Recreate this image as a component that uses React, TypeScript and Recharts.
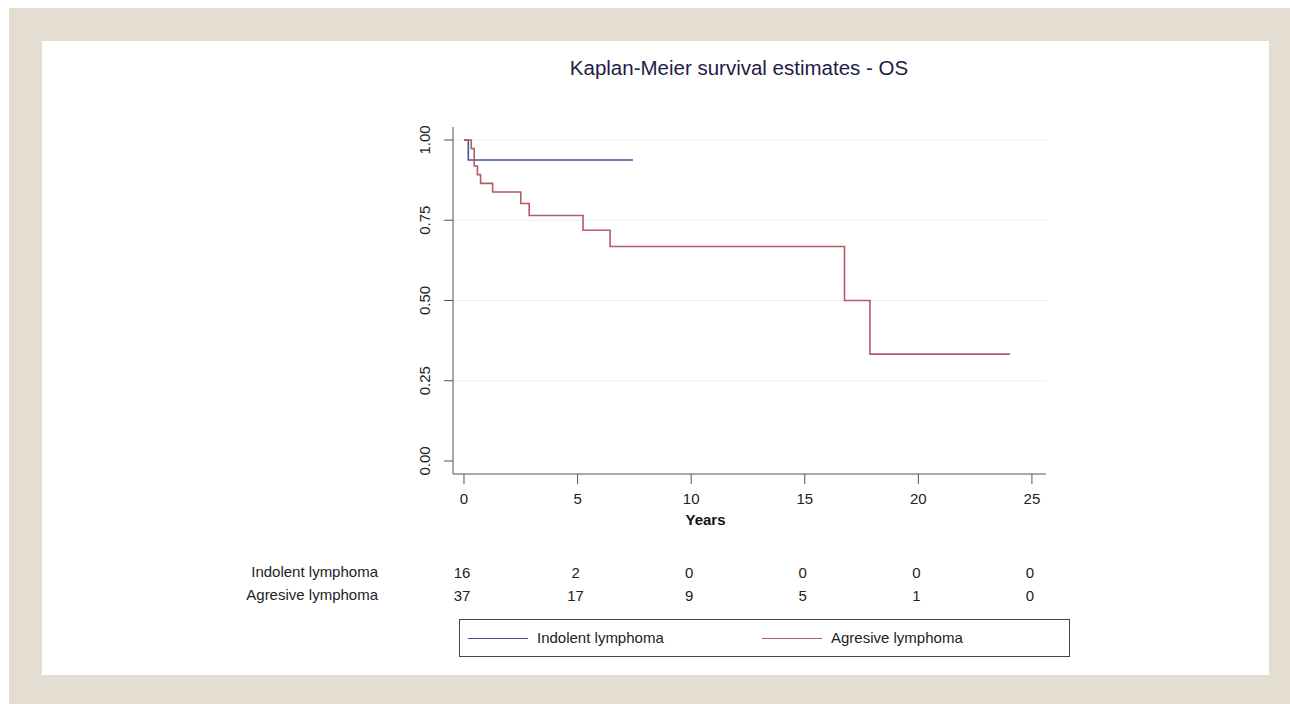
import React from 'react';
import { LineChart, Line, XAxis, YAxis, CartesianGrid } from 'recharts';

// Kaplan-Meier step points (years, survival)
const indolentTimes = [0, 0.19, 7.44];
const indolentSurv = [1, 0.9375, 0.9375];

const aggressiveTimes = [0, 0.32, 0.45, 0.59, 0.73, 1.26, 2.5, 2.87, 5.24, 6.43, 16.75, 17.87, 24.03];
const aggressiveSurv = [1, 0.973, 0.919, 0.892, 0.865, 0.838, 0.802, 0.765, 0.719, 0.668, 0.5, 0.333, 0.333];

const xTicks = [0, 5, 10, 15, 20, 25];
const yTicks = [0, 0.25, 0.5, 0.75, 1];

// numbers at risk at each x tick
const indolentAtRisk = [16, 2, 0, 0, 0, 0];
const aggressiveAtRisk = [37, 17, 9, 5, 1, 0];

const seriesNames = ['Indolent lymphoma', 'Agresive lymphoma'];

const FONT = '"Liberation Sans", Arial, sans-serif';
const colors = {
  frame: '#e4ded2',
  indolent: '#46539b',
  aggressive: '#b35c66',
  axis: '#555',
  text: '#222',
  grid: '#e6f0f0',
  title: '#1d2146',
};

const indolentData = indolentTimes.map((t, i) => ({ t, s: indolentSurv[i] }));
const aggressiveData = aggressiveTimes.map((t, i) => ({ t, s: aggressiveSurv[i] }));

const XTick = ({ x, y, payload }: any) => {
  const i = xTicks.indexOf(payload.value);
  return (
    <g fontFamily={FONT} fontSize={15} fill={colors.text}>
      <text x={x} y={y + 20} textAnchor="middle">{payload.value}</text>
      <text x={x - 2} y={y + 94} textAnchor="middle">{indolentAtRisk[i]}</text>
      <text x={x - 2} y={y + 117} textAnchor="middle">{aggressiveAtRisk[i]}</text>
    </g>
  );
};

const YTick = ({ x, y, payload }: any) => {
  const bx = x - 14;
  return (
    <text
      x={bx}
      y={y}
      transform={`rotate(-90 ${bx} ${y})`}
      textAnchor="middle"
      fontFamily={FONT}
      fontSize={15}
      fill={colors.text}
    >
      {payload.value.toFixed(2)}
    </text>
  );
};

// axis title sits a bit left of the plot centre, as in the original export
const YearsLabel = ({ viewBox }: any) => (
  <text
    x={viewBox.x + viewBox.width / 2 - 44}
    y={viewBox.y + viewBox.height - 9}
    textAnchor="middle"
    fontFamily={FONT}
    fontSize={15}
    fontWeight="bold"
    fill="#111"
  >
    Years
  </text>
);

const abs = (left: number, top: number, extra: React.CSSProperties = {}): React.CSSProperties => ({
  position: 'absolute',
  left,
  top,
  ...extra,
});

export default function App() {
  return (
    <div style={{ position: 'absolute', left: 0, top: 0, width: 1290, height: 704, background: '#fff', fontFamily: FONT }}>
      <div style={abs(9, 8, { width: 1281, height: 696, background: colors.frame })} />
      <div style={abs(42, 41, { width: 1227, height: 634, background: '#fff' })} />

      <div style={abs(489, 55, { width: 500, textAlign: 'center', fontSize: 20.5, color: colors.title, lineHeight: '26px' })}>
        Kaplan-Meier survival estimates - OS
      </div>

      <div style={abs(178, 562, { width: 200, textAlign: 'right', fontSize: 15, color: colors.text, lineHeight: '20px' })}>
        {seriesNames[0]}
      </div>
      <div style={abs(178, 585, { width: 200, textAlign: 'right', fontSize: 15, color: colors.text, lineHeight: '20px' })}>
        {seriesNames[1]}
      </div>

      <div style={{ position: 'absolute', left: 0, top: 0 }}>
        <LineChart width={1290} height={704} margin={{ top: 127, right: 244, bottom: 170, left: 393 }}>
          <CartesianGrid horizontal vertical={false} stroke={colors.grid} horizontalValues={[0.25, 0.5, 0.75, 1]} />
          <XAxis
            type="number"
            dataKey="t"
            domain={[-0.484, 25.62]}
            allowDataOverflow
            ticks={xTicks}
            interval={0}
            height={60}
            tickSize={10}
            tickMargin={0}
            stroke={colors.axis}
            tick={<XTick />}
            label={<YearsLabel />}
          />
          <YAxis
            type="number"
            domain={[-0.0405, 1.0405]}
            allowDataOverflow
            ticks={yTicks}
            interval={0}
            width={60}
            tickSize={9}
            tickMargin={0}
            stroke={colors.axis}
            tick={<YTick />}
          />
          <Line
            data={indolentData}
            dataKey="s"
            name={seriesNames[0]}
            type="stepAfter"
            stroke={colors.indolent}
            strokeWidth={1.6}
            dot={false}
            isAnimationActive={false}
          />
          <Line
            data={aggressiveData}
            dataKey="s"
            name={seriesNames[1]}
            type="stepAfter"
            stroke={colors.aggressive}
            strokeWidth={1.6}
            dot={false}
            isAnimationActive={false}
          />
        </LineChart>
      </div>

      <div style={abs(459, 619, { width: 611, height: 38, boxSizing: 'border-box', border: '1.5px solid #444', background: '#fff' })}>
        <div style={abs(8, 18, { width: 60, height: 0, borderTop: `1.5px solid ${colors.indolent}` })} />
        <div style={abs(77, 8, { fontSize: 15, color: colors.text, lineHeight: '20px', whiteSpace: 'nowrap' })}>{seriesNames[0]}</div>
        <div style={abs(302, 18, { width: 60, height: 0, borderTop: `1.5px solid ${colors.aggressive}` })} />
        <div style={abs(371, 8, { fontSize: 15, color: colors.text, lineHeight: '20px', whiteSpace: 'nowrap' })}>{seriesNames[1]}</div>
      </div>
    </div>
  );
}
